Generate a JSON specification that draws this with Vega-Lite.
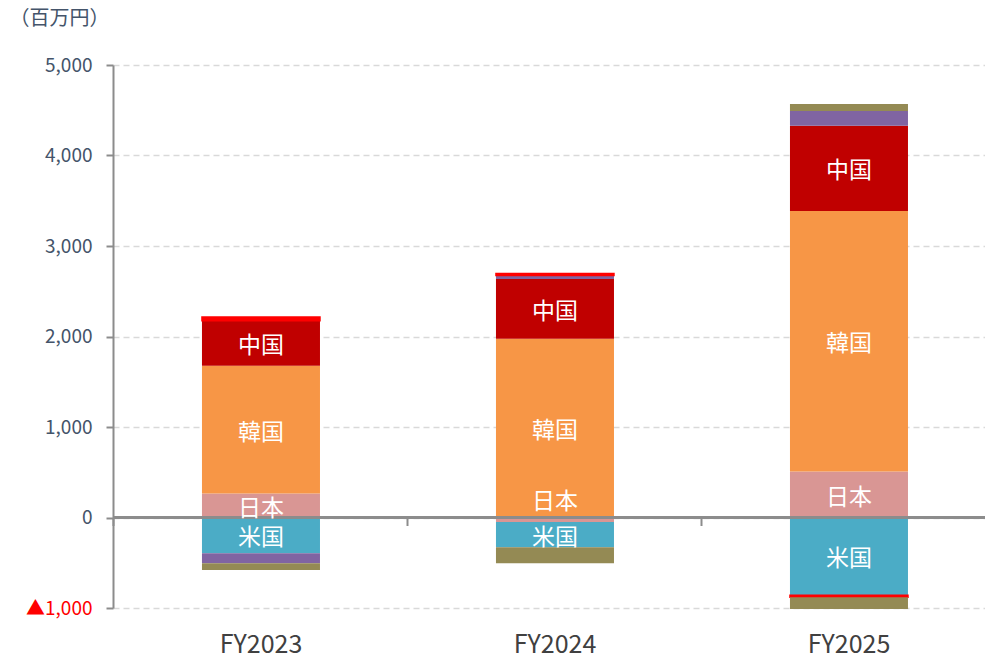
{
  "$schema": "https://vega.github.io/schema/vega-lite/v6.json",
  "width": 872,
  "height": 543,
  "autosize": {"type": "none"},
  "padding": {"left": 113, "top": 65, "right": 0, "bottom": 57},
  "background": "white",
  "config": {
    "font": "Noto Sans CJK JP",
    "view": {"stroke": null}
  },
  "data": {
    "values": [
      {"year": "FY2023", "region": "日本", "order": 1, "value": 265, "label": true},
      {"year": "FY2023", "region": "米国", "order": 2, "value": -395, "label": true},
      {"year": "FY2023", "region": "韓国", "order": 3, "value": 1413, "label": true},
      {"year": "FY2023", "region": "中国", "order": 4, "value": 497, "label": true},
      {"year": "FY2023", "region": "その他", "order": 5, "value": -110, "label": false},
      {"year": "FY2023", "region": "調整", "order": 6, "value": 40, "label": false},
      {"year": "FY2023", "region": "消去", "order": 7, "value": -75, "label": false},
      {"year": "FY2024", "region": "日本", "order": 1, "value": -50, "label": true},
      {"year": "FY2024", "region": "米国", "order": 2, "value": -280, "label": true},
      {"year": "FY2024", "region": "韓国", "order": 3, "value": 1975, "label": true},
      {"year": "FY2024", "region": "中国", "order": 4, "value": 660, "label": true},
      {"year": "FY2024", "region": "その他", "order": 5, "value": 40, "label": false},
      {"year": "FY2024", "region": "調整", "order": 6, "value": 20, "label": false},
      {"year": "FY2024", "region": "消去", "order": 7, "value": -175, "label": false},
      {"year": "FY2025", "region": "日本", "order": 1, "value": 508, "label": true},
      {"year": "FY2025", "region": "米国", "order": 2, "value": -860, "label": true},
      {"year": "FY2025", "region": "韓国", "order": 3, "value": 2880, "label": true},
      {"year": "FY2025", "region": "中国", "order": 4, "value": 940, "label": true},
      {"year": "FY2025", "region": "その他", "order": 5, "value": 165, "label": false},
      {"year": "FY2025", "region": "調整", "order": 6, "value": -20, "label": false},
      {"year": "FY2025", "region": "消去", "order": 7, "value": 77, "label": false},
      {"year": "FY2025", "region": "消去", "order": 8, "value": -130, "label": false}
    ]
  },
  "transform": [
    {"stack": "value", "groupby": ["year"], "sort": [{"field": "order", "order": "ascending"}], "as": ["v0", "v1"]},
    {"calculate": "(datum.v0 + datum.v1) / 2", "as": "mid"}
  ],
  "resolve": {"axis": {"x": "independent"}},
  "layer": [
    {
      "mark": {"type": "bar", "strokeWidth": 1.5},
      "encoding": {
        "x": {
          "field": "year",
          "type": "nominal",
          "sort": ["FY2023", "FY2024", "FY2025"],
          "scale": {"paddingInner": 0.5986, "paddingOuter": 0.2823, "align": 0.536},
          "axis": {
            "orient": "bottom",
            "title": null,
            "domain": false,
            "ticks": false,
            "labelAngle": 0,
            "labelFontSize": 25,
            "labelColor": "#404040",
            "labelPadding": 24,
            "labelFont": "Noto Sans CJK JP"
          }
        },
        "y": {
          "field": "v0",
          "type": "quantitative",
          "scale": {"domain": [-1000, 5000], "nice": false},
          "axis": {
            "values": [-1000, 0, 1000, 2000, 3000, 4000, 5000],
            "title": "（百万円）",
            "titleAngle": 0,
            "titleAlign": "left",
            "titleBaseline": "middle",
            "titleX": -104,
            "titleY": -47,
            "titleFontSize": 20,
            "titleFontWeight": "normal",
            "titleColor": "#44546A",
            "titleFont": "Noto Sans CJK JP",
            "labelExpr": "datum.value < 0 ? '▲' + format(-datum.value, ',') : format(datum.value, ',')",
            "labelFontSize": 19,
            "labelFont": "Noto Sans CJK JP",
            "labelColor": {"condition": {"test": "datum.value < 0", "value": "#FF0000"}, "value": "#44546A"},
            "labelPadding": 14,
            "tickSize": 7,
            "tickColor": "#8C8C8C",
            "tickWidth": 2,
            "domainColor": "#8C8C8C",
            "domainWidth": 2,
            "grid": true,
            "gridColor": "#D9D9D9",
            "gridDash": [6, 4],
            "gridWidth": 1.5
          }
        },
        "y2": {"field": "v1"},
        "color": {
          "field": "region",
          "type": "nominal",
          "scale": {
            "domain": ["日本", "米国", "韓国", "中国", "その他", "調整", "消去"],
            "range": ["#D99694", "#4BACC6", "#F79646", "#C00000", "#8064A2", "#FF0000", "#948A54"]
          },
          "legend": null
        },
        "stroke": {
          "condition": {"test": "datum.region === '調整'", "value": "#FF0000"},
          "value": null
        }
      }
    },
    {
      "mark": {"type": "rule", "color": "#8C8C8C", "strokeWidth": 2},
      "encoding": {"y": {"datum": 0, "type": "quantitative"}}
    },
    {
      "transform": [{"filter": "datum.label && !(datum.year === 'FY2024' && datum.region === '日本')"}],
      "mark": {"type": "text", "color": "white", "fontSize": 23, "font": "Noto Sans CJK JP", "baseline": "middle", "dy": 3},
      "encoding": {
        "x": {"field": "year", "type": "nominal", "sort": ["FY2023", "FY2024", "FY2025"], "axis": null},
        "y": {"field": "mid", "type": "quantitative"},
        "text": {"field": "region"}
      }
    },
    {
      "transform": [{"filter": "datum.year === 'FY2024' && datum.region === '日本'"}],
      "mark": {"type": "text", "color": "white", "fontSize": 23, "font": "Noto Sans CJK JP", "baseline": "middle", "dy": -18},
      "encoding": {
        "x": {
          "field": "year",
          "type": "nominal",
          "sort": ["FY2023", "FY2024", "FY2025"],
          "axis": {
            "orient": "bottom",
            "title": null,
            "labels": false,
            "domain": false,
            "ticks": true,
            "tickSize": 8,
            "tickWidth": 2,
            "tickColor": "#8C8C8C",
            "bandPosition": -0.75,
            "offset": -90.5,
            "grid": false
          }
        },
        "y": {"field": "mid", "type": "quantitative"},
        "text": {"field": "region"}
      }
    }
  ]
}
